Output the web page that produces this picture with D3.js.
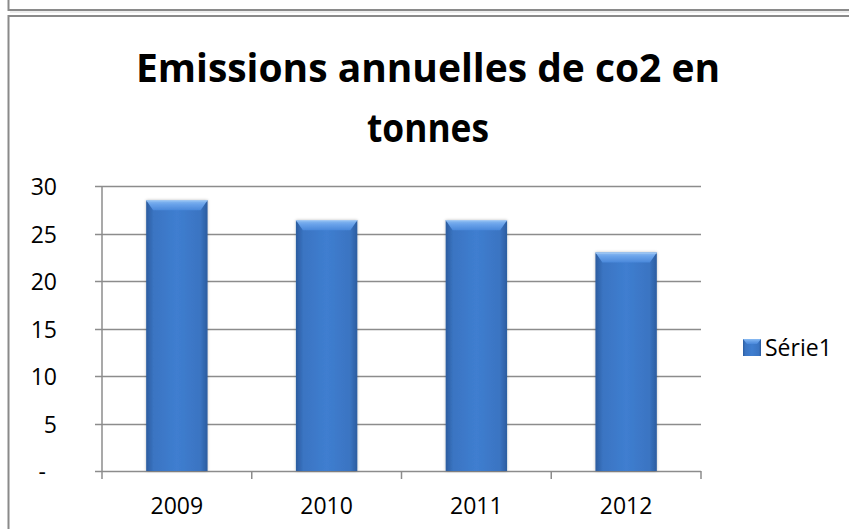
<!DOCTYPE html>
<html>
<head>
<meta charset="utf-8">
<script src="https://cdn.jsdelivr.net/npm/d3@7"></script>
<style>
  html, body { margin: 0; padding: 0; background: #fff; }
  svg { display: block; }
</style>
</head>
<body>
<script>
// ---- data ----
const categories = ["2009", "2010", "2011", "2012"];
const values = [28.5, 26.4, 26.4, 23.0];
const yTicks = [0, 5, 10, 15, 20, 25, 30];
const seriesName = "Série1";
const titleLines = ["Emissions annuelles de co2 en", "tonnes"];

// ---- setup ----
const W = 849, H = 529;
const svg = d3.select("body").append("svg").attr("width", W).attr("height", H);
svg.append("rect").attr("width", W).attr("height", H).attr("fill", "#fff");

const defs = svg.append("defs");
const body = defs.append("linearGradient").attr("id", "barBody").attr("x1", 0).attr("x2", 1).attr("y1", 0).attr("y2", 0);
[[0, "#2b5c9f"], [0.12, "#3a74c2"], [0.5, "#3f7ed0"], [0.88, "#3a74c2"], [1, "#2b5c9f"]]
  .forEach(([o, c]) => body.append("stop").attr("offset", o).attr("stop-color", c));
const bevel = defs.append("linearGradient").attr("id", "barBevel").attr("x1", 0).attr("x2", 0).attr("y1", 0).attr("y2", 1);
[[0, "#8cbcf2"], [0.4, "#6aa3ea"], [1, "#4a88da"]]
  .forEach(([o, c]) => bevel.append("stop").attr("offset", o).attr("stop-color", c));
const shadow = defs.append("filter").attr("id", "soft").attr("x", "-20%").attr("y", "-10%").attr("width", "140%").attr("height", "120%");
shadow.append("feGaussianBlur").attr("in", "SourceAlpha").attr("stdDeviation", 1.5);
shadow.append("feOffset").attr("dx", 0).attr("dy", 0).attr("result", "b");
shadow.append("feComponentTransfer").append("feFuncA").attr("type", "linear").attr("slope", 0.25);
const fm = shadow.append("feMerge");
fm.append("feMergeNode");
fm.append("feMergeNode").attr("in", "SourceGraphic");

// ---- frames ----
const frameColor = "#8a8a8a";
svg.append("path").attr("d", "M8.5,0 V10 H849").attr("fill", "none").attr("stroke", frameColor).attr("stroke-width", 2);
svg.append("path").attr("d", "M8.5,529 V16 H849").attr("fill", "none").attr("stroke", frameColor).attr("stroke-width", 2);
svg.append("line").attr("x1", 10).attr("x2", 849).attr("y1", 12).attr("y2", 12).attr("stroke", "#dcdcdc").attr("stroke-width", 1);

// ---- scales ----
const x = d3.scaleBand().domain(categories).range([102, 701]).padding(0);
const y = d3.scaleLinear().domain([0, 30]).range([471, 186]);

const gridColor = "#8c8c8c";
const font = "'Open Sans', 'Liberation Sans', sans-serif";

// gridlines
svg.append("g").selectAll("line").data(yTicks).join("line")
  .attr("x1", 95).attr("x2", 701)
  .attr("y1", d => Math.round(y(d)) + 0.5).attr("y2", d => Math.round(y(d)) + 0.5)
  .attr("stroke", gridColor).attr("stroke-width", 1.5);

// y axis line
svg.append("line").attr("x1", 102).attr("x2", 102).attr("y1", y(30)).attr("y2", y(0))
  .attr("stroke", gridColor).attr("stroke-width", 1.5);

// x ticks at band boundaries
const boundaries = categories.map(c => x(c)).concat([x.range()[1]]);
svg.append("g").selectAll("line").data(boundaries).join("line")
  .attr("x1", d => d).attr("x2", d => d)
  .attr("y1", y(0)).attr("y2", y(0) + 8)
  .attr("stroke", gridColor).attr("stroke-width", 1.5);

// y tick labels
svg.append("g").selectAll("text").data(yTicks).join("text")
  .attr("x", d => d === 0 ? 46 : 57)
  .attr("y", d => y(d) + 9)
  .attr("text-anchor", "end")
  .attr("font-family", font).attr("font-size", 23).attr("fill", "#000")
  .text(d => d === 0 ? "-" : d3.format("d")(d));

// x tick labels
svg.append("g").selectAll("text").data(categories).join("text")
  .attr("x", d => x(d) + x.bandwidth() / 2)
  .attr("y", 514)
  .attr("text-anchor", "middle")
  .attr("font-family", font).attr("font-size", 23).attr("fill", "#000")
  .text(d => d);

// ---- bars ----
const barFrac = 0.41;
const bw = x.bandwidth() * barFrac;
const bars = svg.append("g").selectAll("g").data(categories.map((c, i) => ({ c, v: values[i] }))).join("g")
  .attr("filter", "url(#soft)");
bars.append("rect")
  .attr("x", d => x(d.c) + (x.bandwidth() - bw) / 2)
  .attr("y", d => y(d.v))
  .attr("width", bw)
  .attr("height", d => y(0) - y(d.v))
  .attr("fill", "url(#barBody)");
bars.append("path")
  .attr("d", d => {
    const x0 = x(d.c) + (x.bandwidth() - bw) / 2, x1 = x0 + bw, t = y(d.v), b = 10, s = 7;
    return `M${x0},${t} H${x1} L${x1 - s},${t + b} H${x0 + s} Z`;
  })
  .attr("fill", "url(#barBevel)");
bars.append("path")
  .attr("d", d => {
    const x0 = x(d.c) + (x.bandwidth() - bw) / 2, x1 = x0 + bw, t = y(d.v);
    return `M${x0},${t + 0.5} H${x1}`;
  })
  .attr("stroke", "#a9cdf5").attr("stroke-width", 1);

// ---- title ----
const title = svg.append("g").attr("font-family", font).attr("font-weight", "bold").attr("font-size", 40).attr("fill", "#000");
const titleW = [584, 122];
const titleY = [82, 142];
titleLines.forEach((t, i) => {
  title.append("text").attr("x", 428).attr("y", titleY[i]).attr("text-anchor", "middle")
    .attr("textLength", titleW[i]).attr("lengthAdjust", "spacingAndGlyphs").text(t);
});

// ---- legend ----
const lg = svg.append("g");
lg.append("rect").attr("x", 743).attr("y", 339).attr("width", 18).attr("height", 17).attr("fill", "url(#barBody)");
lg.append("path").attr("d", "M743,339 H761 L757,344 H747 Z").attr("fill", "url(#barBevel)");
lg.append("text").attr("x", 765).attr("y", 356).attr("font-family", font).attr("font-size", 23).attr("fill", "#000").text(seriesName);
</script>
</body>
</html>
